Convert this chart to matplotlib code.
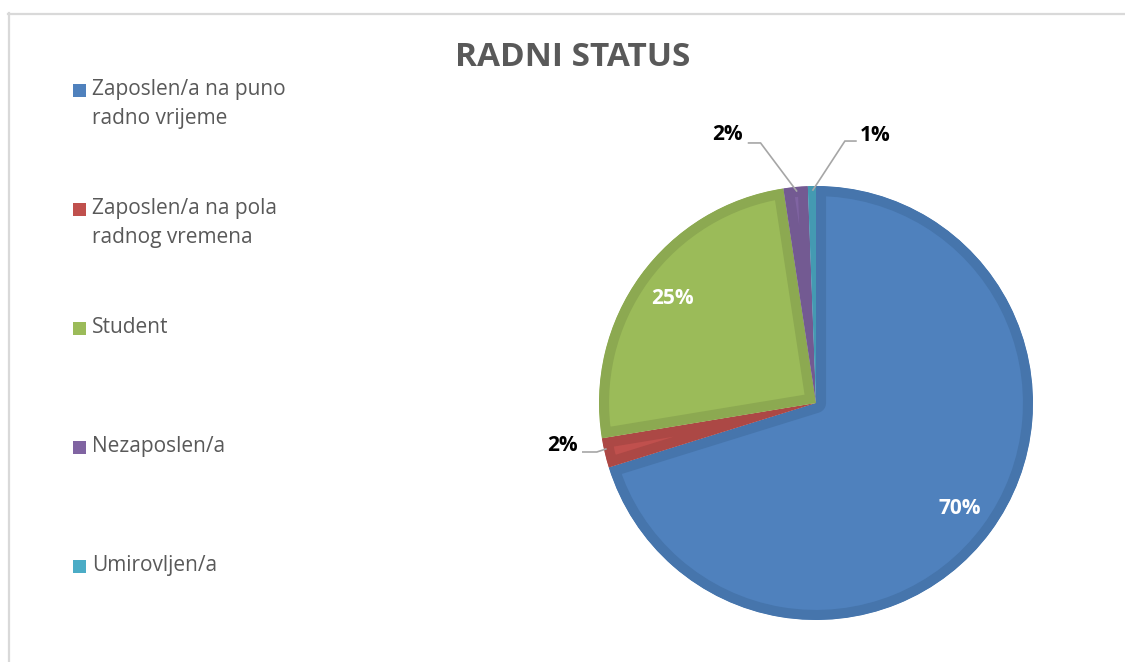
import numpy as np
import matplotlib
matplotlib.use("Agg")
import matplotlib.pyplot as plt
from matplotlib.patches import Rectangle
from matplotlib.lines import Line2D

# ---- data ----
title = "RADNI STATUS"
categories = ["Zaposlen/a na puno\nradno vrijeme",
              "Zaposlen/a na pola\nradnog vremena",
              "Student",
              "Nezaposlen/a",
              "Umirovljen/a"]
values = [70.2, 2.2, 25.2, 1.8, 0.6]
pct_labels = ["70%", "2%", "25%", "2%", "1%"]
colors = ["#4F81BD", "#C0504D", "#9BBB59", "#8064A2", "#4BACC6"]
edge_colors = ["#4675AC", "#AC4845", "#8CA951", "#735A92", "#449AB2"]

W, H = 1125, 662
DPI = 100
fig = plt.figure(figsize=(W / DPI, H / DPI), dpi=DPI)
fig.patch.set_facecolor("white")

FONT = "Open Sans"
TXT = "#595959"

# frame (light grey border, top & left visible)
fig.add_artist(Line2D([8 / W, 1.0], [1 - 13.5 / H, 1 - 13.5 / H], color="#D9D9D9", lw=1.6,
                      transform=fig.transFigure))
fig.add_artist(Line2D([8.5 / W, 8.5 / W], [0, 1 - 13 / H], color="#D9D9D9", lw=1.6,
                      transform=fig.transFigure))

# title
fig.text(573 / W, 1 - 58 / H, title, ha="center", va="center", fontsize=24,
         fontweight="bold", color=TXT, family=FONT)

# pie axes
cx, cy, R = 816, 403, 217
ax = fig.add_axes([(cx - R) / W, (H - cy - R) / H, 2 * R / W, 2 * R / H])

wedges, _ = ax.pie(values, colors=colors, startangle=90, counterclock=False, radius=1.0,
                   wedgeprops=dict(linewidth=14.5, edgecolor="none"))
ax.set_xlim(-1, 1)
ax.set_ylim(-1, 1)
ax.set_aspect("equal")
ax.axis("off")
for w, ec in zip(wedges, edge_colors):
    w.set_edgecolor(ec)
    w.set_joinstyle("round")
    w.set_clip_on(True)
    w.set_clip_path(w)

px = 1.0 / R  # one pixel in data units
for i, w in enumerate(wedges):
    mid = np.deg2rad((w.theta1 + w.theta2) / 2)
    ex, ey = np.cos(mid), np.sin(mid)
    if values[i] > 10:
        r = 0.82
        ax.text(r * np.cos(mid), r * np.sin(mid), pct_labels[i], ha="center", va="center",
                fontsize=15, fontweight="bold", color="white", family=FONT)
    else:
        if ex < -0.5:   # left side label (red)
            tx, ty = ex - 42 * px, ey + 7 * px
            p1 = (tx + 20 * px, ty - 6 * px)
            p2 = (p1[0] + 14 * px, p1[1])
            p3 = (ex + 1 * px, ey + 4 * px)
        elif ex < 0 and i == 3:   # top-left (purple)
            tx, ty = ex - 68 * px, ey + 52 * px
            p1 = (tx + 21 * px, ty - 8 * px)
            p2 = (p1[0] + 12 * px, p1[1])
            p3 = (ex + 1 * px, ey - 4 * px)
        else:           # top-right (teal)
            tx, ty = ex + 63 * px, ey + 51 * px
            p1 = (tx - 19 * px, ty - 6 * px)
            p2 = (p1[0] - 11 * px, p1[1])
            p3 = (ex + 1 * px, ey - 4 * px)
        ax.plot([p1[0], p2[0], p3[0]], [p1[1], p2[1], p3[1]], color="#A6A6A6", lw=1.2,
                clip_on=False, solid_joinstyle="miter")
        ax.text(tx, ty, pct_labels[i], ha="center", va="center", fontsize=15,
                fontweight="bold", color="black", family=FONT, clip_on=False)

# legend (manual, left column)
y0, dy = 90, 119.2
for i, (lab, c) in enumerate(zip(categories, colors)):
    yy = y0 + i * dy
    fig.add_artist(Rectangle((73 / W, 1 - (yy + 6.5) / H), 13 / W, 13 / H,
                             transform=fig.transFigure, facecolor=c, edgecolor="none"))
    fig.text(92 / W, 1 - (yy - 11.5) / H, lab, ha="left", va="top", fontsize=15,
             color=TXT, family=FONT, linespacing=1.55)

fig.savefig("out.png", dpi=DPI)
